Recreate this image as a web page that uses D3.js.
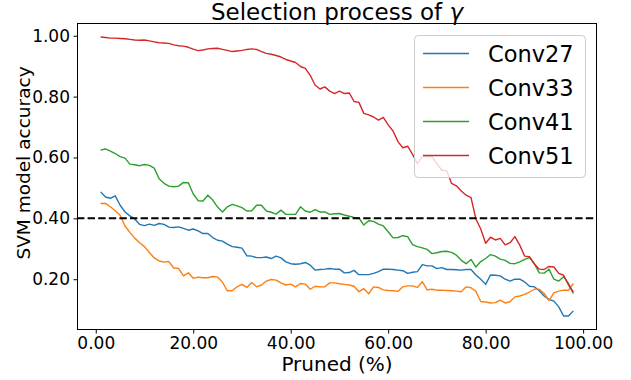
<!DOCTYPE html>
<html>
<head>
<meta charset="utf-8">
<script src="https://cdn.jsdelivr.net/npm/d3@7"></script>
<style>
  body { margin: 0; background: #fff; }
  svg { display: block; font-family: "DejaVu Sans", sans-serif; }
</style>
</head>
<body>
<svg id="chart" width="631" height="380"></svg>
<script>
// pruned percentage (x) for every sample
var pruned = [
   1,  2,  3,  4,  5,  6,  7,  8,  9, 10, 11, 12, 13, 14, 15, 16, 17, 18, 19, 20,
  21, 22, 23, 24, 25, 26, 27, 28, 29, 30, 31, 32, 33, 34, 35, 36, 37, 38, 39, 40,
  41, 42, 43, 44, 45, 46, 47, 48, 49, 50, 51, 52, 53, 54, 55, 56, 57, 58, 59, 60,
  61, 62, 63, 64, 65, 66, 67, 68, 69, 70, 71, 72, 73, 74, 75, 76, 77, 78, 79, 80,
  81, 82, 83, 84, 85, 86, 87, 88, 89, 90, 91, 92, 93, 94, 95, 96, 97, 98
];

var conv27 = [
  0.487,0.470,0.466,0.474,0.443,0.421,0.408,0.398,0.380,0.376,
  0.381,0.377,0.383,0.380,0.371,0.370,0.372,0.367,0.361,0.365,
  0.359,0.350,0.350,0.337,0.328,0.325,0.315,0.307,0.305,0.302,
  0.277,0.276,0.271,0.271,0.273,0.268,0.276,0.270,0.257,0.251,
  0.249,0.251,0.255,0.246,0.230,0.232,0.233,0.235,0.233,0.233,
  0.221,0.222,0.229,0.215,0.215,0.215,0.219,0.225,0.233,0.233,
  0.232,0.230,0.228,0.219,0.223,0.225,0.248,0.244,0.244,0.235,
  0.238,0.232,0.232,0.231,0.230,0.232,0.232,0.214,0.200,0.183,
  0.214,0.213,0.211,0.200,0.194,0.200,0.200,0.191,0.177,0.175,
  0.162,0.145,0.134,0.128,0.109,0.079,0.079,0.096
];

var conv33 = [
  0.449,0.449,0.438,0.425,0.410,0.375,0.354,0.335,0.320,0.307,
  0.288,0.270,0.260,0.256,0.258,0.237,0.235,0.211,0.221,0.203,
  0.207,0.205,0.205,0.209,0.207,0.190,0.162,0.162,0.175,0.183,
  0.173,0.189,0.175,0.181,0.194,0.199,0.197,0.188,0.181,0.184,
  0.175,0.186,0.184,0.167,0.177,0.175,0.175,0.188,0.188,0.185,
  0.183,0.181,0.177,0.159,0.169,0.152,0.175,0.173,0.165,0.163,
  0.162,0.160,0.175,0.178,0.178,0.173,0.192,0.165,0.167,0.164,
  0.164,0.163,0.162,0.161,0.159,0.175,0.172,0.160,0.127,0.125,
  0.122,0.123,0.131,0.122,0.126,0.142,0.145,0.150,0.158,0.167,
  0.167,0.153,0.130,0.155,0.161,0.164,0.164,0.186
];

var conv41 = [
  0.624,0.628,0.621,0.613,0.603,0.598,0.578,0.576,0.573,0.577,
  0.574,0.565,0.530,0.515,0.506,0.504,0.506,0.518,0.517,0.480,
  0.458,0.457,0.476,0.460,0.437,0.421,0.438,0.446,0.441,0.435,
  0.424,0.425,0.443,0.443,0.424,0.420,0.414,0.427,0.413,0.413,
  0.413,0.438,0.424,0.420,0.429,0.421,0.421,0.413,0.415,0.416,
  0.411,0.407,0.403,0.402,0.378,0.392,0.390,0.381,0.375,0.356,
  0.336,0.337,0.343,0.340,0.314,0.307,0.303,0.298,0.284,0.287,
  0.291,0.292,0.288,0.279,0.262,0.251,0.265,0.240,0.258,0.268,
  0.281,0.276,0.266,0.262,0.252,0.251,0.257,0.265,0.271,0.251,
  0.221,0.220,0.233,0.200,0.194,0.208,0.186,0.153
];

var conv51 = [
  0.996,0.994,0.992,0.992,0.991,0.990,0.988,0.986,0.985,0.986,
  0.983,0.980,0.977,0.976,0.975,0.970,0.967,0.966,0.962,0.956,
  0.951,0.953,0.957,0.958,0.959,0.955,0.952,0.948,0.950,0.952,
  0.955,0.957,0.955,0.948,0.942,0.939,0.935,0.930,0.922,0.917,
  0.912,0.899,0.893,0.870,0.838,0.825,0.832,0.818,0.810,0.818,
  0.810,0.812,0.784,0.781,0.745,0.740,0.733,0.723,0.732,0.707,
  0.687,0.652,0.632,0.637,0.610,0.580,0.603,0.604,0.602,0.580,
  0.558,0.556,0.515,0.507,0.490,0.476,0.468,0.398,0.365,0.318,
  0.338,0.329,0.334,0.313,0.320,0.340,0.312,0.276,0.274,0.250,
  0.233,0.232,0.242,0.240,0.219,0.213,0.181,0.158
];

var seriesNames = ["Conv27", "Conv33", "Conv41", "Conv51"];
var seriesColors = ["#1f77b4", "#ff7f0e", "#2ca02c", "#d62728"];
var xTicks = [0, 20, 40, 60, 80, 100];
var yTicks = [0.2, 0.4, 0.6, 0.8, 1.0];
var threshold = 0.4;

//============================================================
// layout
//------------------------------------------------------------
var margin = {top: 23, right: 34, bottom: 50, left: 77}
    , width = 631 - margin.left - margin.right
    , height = 380 - margin.top - margin.bottom
    ;

var series = [conv27, conv33, conv41, conv51].map(function(vals, i) {
    return {
        name: seriesNames[i],
        color: seriesColors[i],
        values: vals.map(function(v, j) { return {x: pruned[j], y: v}; })
    };
});

// matplotlib style 5% padding around the data
function padded(ext) {
    var p = (ext[1] - ext[0]) * 0.05;
    return [ext[0] - p, ext[1] + p];
}
var allY = d3.merge([conv27, conv33, conv41, conv51]);

var x = d3.scaleLinear().domain(padded(d3.extent(pruned))).range([0, width]);
var y = d3.scaleLinear().domain(padded(d3.extent(allY))).range([height, 0]);

var svg = d3.select("#chart");
var g = svg.append("g").attr("transform", "translate(" + margin.left + "," + margin.top + ")");

// lines
var line = d3.line()
    .x(function(d) { return x(d.x); })
    .y(function(d) { return y(d.y); });

g.append("g").attr("class", "lines")
  .selectAll("path")
  .data(series)
  .enter().append("path")
    .attr("d", function(d) { return line(d.values); })
    .attr("fill", "none")
    .attr("stroke", function(d) { return d.color; })
    .attr("stroke-width", 1.4)
    .attr("stroke-linejoin", "round");

// threshold line
g.append("line")
    .attr("x1", 0).attr("x2", width)
    .attr("y1", y(threshold)).attr("y2", y(threshold))
    .attr("stroke", "#000")
    .attr("stroke-width", 2)
    .attr("stroke-dasharray", "7.4,3.2");

// axes
var fmt = d3.format(".2f");
var xAxis = d3.axisBottom(x).tickValues(xTicks).tickFormat(fmt)
    .tickSizeInner(3.5).tickSizeOuter(0).tickPadding(3.5);
var yAxis = d3.axisLeft(y).tickValues(yTicks).tickFormat(fmt)
    .tickSizeInner(3.5).tickSizeOuter(0).tickPadding(3.5);

var gx = g.append("g").attr("transform", "translate(0," + height + ")").call(xAxis);
var gy = g.append("g").call(yAxis);
[gx, gy].forEach(function(a) {
    a.select(".domain").remove();
    a.selectAll("text").attr("font-size", 17).attr("fill", "#000")
        .attr("font-family", "DejaVu Sans, sans-serif");
    a.selectAll("line").attr("stroke", "#000").attr("stroke-width", 1);
});

// frame
g.append("rect")
    .attr("x", 0.5).attr("y", 0.5)
    .attr("width", width - 1).attr("height", height - 1)
    .attr("fill", "none").attr("stroke", "#000").attr("stroke-width", 1);

// labels
svg.append("text")
    .attr("x", margin.left + width / 2).attr("y", 20)
    .attr("text-anchor", "middle").attr("font-size", 23)
    .text("Selection process of ")
  .append("tspan").attr("font-style", "italic").text("γ");

svg.append("text")
    .attr("x", margin.left + width / 2).attr("y", 371)
    .attr("text-anchor", "middle").attr("font-size", 20)
    .text("Pruned (%)");

svg.append("text")
    .attr("transform", "translate(30,163) rotate(-90)")
    .attr("text-anchor", "middle").attr("font-size", 18.5)
    .text("SVM model accuracy");

// legend
var leg = g.append("g").attr("transform", "translate(" + (414 - margin.left) + "," + (35 - margin.top) + ")");
leg.append("rect")
    .attr("x", 0.5).attr("y", 0.5).attr("width", 171).attr("height", 142)
    .attr("rx", 4).attr("ry", 4)
    .attr("fill", "#fff").attr("fill-opacity", 0.8)
    .attr("stroke", "#ccc").attr("stroke-width", 1);

var item = leg.selectAll("g.item")
    .data(series)
  .enter().append("g").attr("class", "item")
    .attr("transform", function(d, i) { return "translate(0," + (18.5 + i * 34) + ")"; });

item.append("line")
    .attr("x1", 9).attr("x2", 55)
    .attr("stroke", function(d) { return d.color; })
    .attr("stroke-width", 1.4);
item.append("text")
    .attr("x", 74).attr("dy", "0.36em")
    .attr("font-size", 22.5)
    .text(function(d) { return d.name; });
</script>
</body>
</html>
